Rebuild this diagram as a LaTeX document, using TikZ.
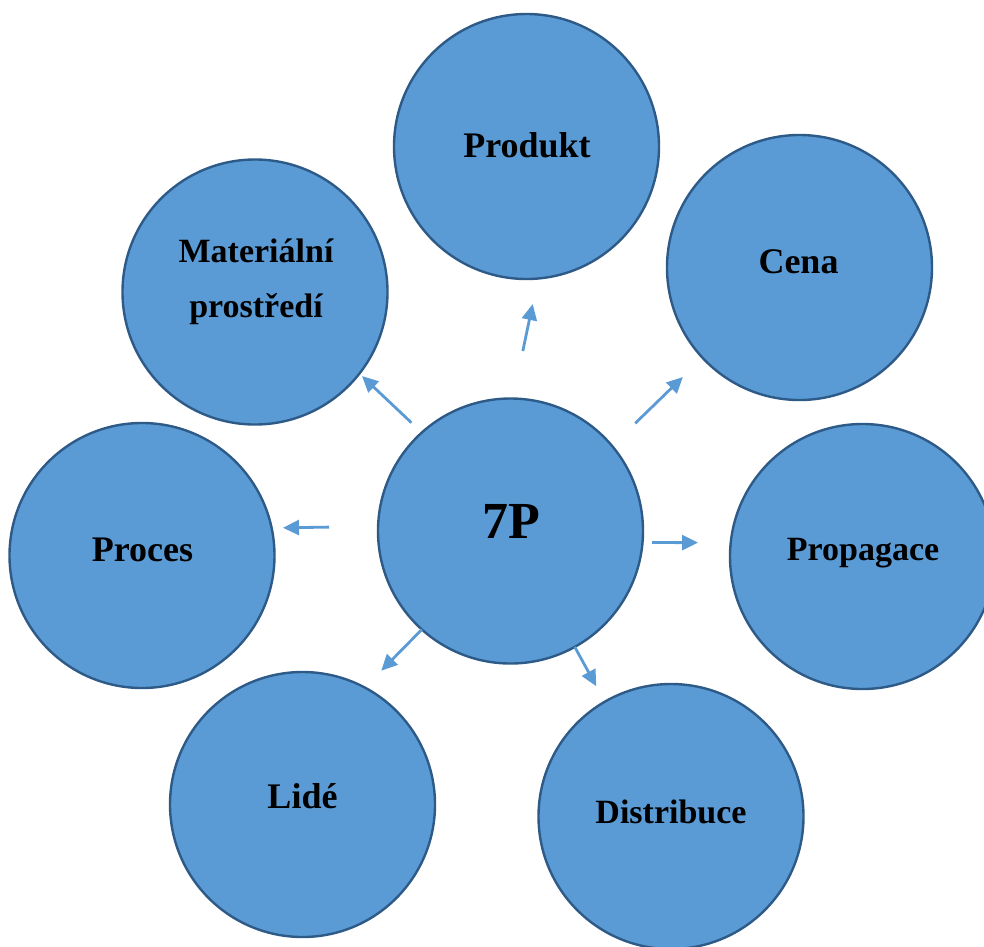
\documentclass[tikz,border=0pt]{standalone}
\usepackage{fontspec}
\setmainfont{Liberation Serif}
\usetikzlibrary{arrows.meta}
\definecolor{pfill}{HTML}{5B9BD5}
\definecolor{pline}{HTML}{2E5A87}

\begin{document}
\begin{tikzpicture}[
  x=1pt, y=-1pt,
  ball/.style={circle, draw=pline, fill=pfill, line width=2.4pt,
               minimum size=265pt, inner sep=0pt, outer sep=0pt},
  word/.style={anchor=base, align=center,
               font=\fontsize{36}{44}\selectfont\bfseries},
  longword/.style={word, font=\fontsize{34}{52}\selectfont\bfseries},
  arr/.style={-{Triangle[length=16pt, width=15pt]}, pfill, line width=2.8pt}
]
\useasboundingbox (0,0) rectangle (984,946);

% the seven P's around the core
\node[ball] (core) at (510.5,531) {};
\node[ball] (prod) at (526.5,146.5) {};
\node[ball] (cena) at (799.5,267.5) {};
\node[ball] (prop) at (862.5,556.5) {};
\node[ball] (dist) at (671,816.5) {};
\node[ball] (lide) at (302.5,804.5) {};
\node[ball] (proc) at (142,555.5) {};
\node[ball] (mat)  at (255,292) {};

% labels sit a little above the centres (base = last line)
\node[word, font=\fontsize{52}{60}\selectfont\bfseries] (core-t) at (511,538) {7P};
\node[word] (prod-t) at (527,157) {Produkt};
\node[word] (cena-t) at (798.5,273) {Cena};
\node[longword] (prop-t) at (863,560) {Propagace};
\node[longword] (dist-t) at (671,823) {Distribuce};
\node[word] (lide-t) at (302.5,808) {Lidé};
\node[word] (proc-t) at (142.5,561) {Proces};
\node[longword] (mat-t) at (256,317) {Materiální\\[3pt]prostředí};

% short arrows from the core outwards
\foreach \b/\p/\s/\q/\e in {prod/89/48.6pt/-85/26.1pt, cena/40/32.4pt/-137.8/27.5pt,
    prop/-5.6/9.6pt/174.6/32.6pt, dist/-61.3/0pt/120.8/17.7pt,
    lide/-132.7/0pt/62.6/23.6pt, proc/178.7/49pt/12/11.4pt,
    mat/132.3/14.4pt/-38/3.6pt}
  \draw[arr, shorten <=\s, shorten >=\e] (core.\p) -- (\b.\q);
\end{tikzpicture}
\end{document}
